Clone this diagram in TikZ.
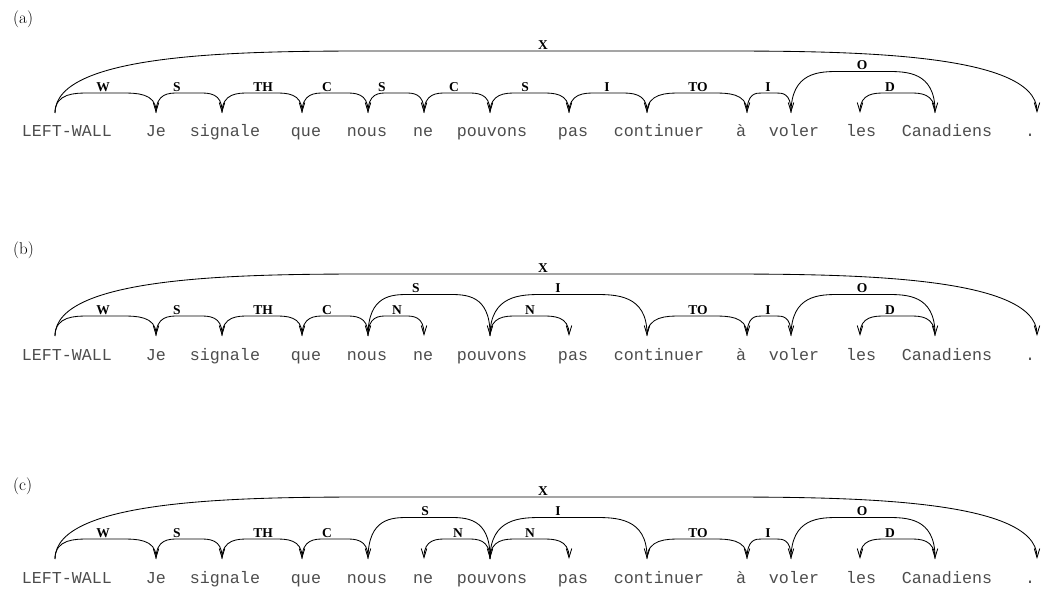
\documentclass[tikz,border=0pt]{standalone}
\usepackage{fontspec}
\newfontfamily\wordfont{Liberation Mono}
\newfontfamily\labfont{Liberation Serif}
\usetikzlibrary{arrows.meta,calc}
\newcounter{lkc}
\tikzset{
  word/.style={font=\wordfont\fontsize{16.67}{18}\selectfont, anchor=base, inner sep=0pt, text=black!70},
  lab/.style={font=\labfont\bfseries\fontsize{13.5}{15}\selectfont, anchor=south, inner sep=0pt, yshift=1.5pt},
  panellab/.style={font=\fontsize{17}{19}\selectfont, anchor=west, inner sep=0pt},
  lk/.style={line width=0.85pt},
  ar/.style={-{Straight Barb[length=9pt,width=5.5pt]}},
  al/.style={{Straight Barb[length=9pt,width=5.5pt]}-},
}
% #1 from, #2 to, #3 height, #4 label, #5 label x, #6 arrow style
\newcommand\lnk[6]{%
  \stepcounter{lkc}%
  \draw[lk,#6] let \p1=(#1),\p2=(#2),\n1={(\x2-\x1)/3},\n2={0.6*(\x2-\x1)/3} in
    (\p1) .. controls (\x1,\y1+#3pt) and (\x1+\n2,\y1+#3pt) .. (\x1+\n1,\y1+#3pt)
    -- (\x2-\n1,\y2+#3pt) .. controls (\x2-\n2,\y2+#3pt) and (\x2,\y2+#3pt) .. (\p2);
  \path let \p1=(#1) in (#5pt,\y1+#3pt) node[lab] (L\number\value{lkc}) {#4};
}
% #1 prefix, #2 y offset, #3 label y
\newcommand\sentence[3]{%
  \node[panellab] (#1lab) at (13,#3) {(#1)};
  \foreach \i/\wx/\px/\w in {0/67/55/LEFT-WALL, 1/156/156/Je, 2/225/222/signale,
      3/306/302/que, 4/367/368/nous, 5/423/424/ne, 6/492/490/pouvons, 7/573/569/pas,
      8/659/647/continuer, 9/741/747/à, 10/794/791/voler, 11/861/860/les,
      12/947/935/Canadiens, 13/1030/1037/.}{
    \node[word] (#1w\i) at (\wx,137+#2) {\w};
    \coordinate (#1\i) at (\px,113+#2);
  }
}
\def\hA{20}\def\hB{41.5}\def\hC{62}
\begin{document}
\begin{tikzpicture}[x=1pt,y=-1pt]
\useasboundingbox (0,0) rectangle (1045,591);
% ---------- (a)
\sentence{a}{0}{19}
\lnk{a0}{a1}{\hA}{W}{103}{ar}
\lnk{a1}{a2}{\hA}{S}{177}{ar}
\lnk{a2}{a3}{\hA}{TH}{263}{ar}
\lnk{a3}{a4}{\hA}{C}{327}{ar}
\lnk{a4}{a5}{\hA}{S}{382}{ar}
\lnk{a5}{a6}{\hA}{C}{454}{ar}
\lnk{a6}{a7}{\hA}{S}{525}{ar}
\lnk{a7}{a8}{\hA}{I}{607}{ar}
\lnk{a8}{a9}{\hA}{TO}{698}{ar}
\lnk{a9}{a10}{\hA}{I}{768}{ar}
\lnk{a10}{a12}{\hB}{O}{862}{ar}
\lnk{a11}{a12}{\hA}{D}{890}{al}
\lnk{a0}{a13}{\hC}{X}{543}{ar}
% ---------- (b)
\sentence{b}{223}{250}
\lnk{b0}{b1}{\hA}{W}{103}{ar}
\lnk{b1}{b2}{\hA}{S}{177}{ar}
\lnk{b2}{b3}{\hA}{TH}{263}{ar}
\lnk{b3}{b4}{\hA}{C}{327}{ar}
\lnk{b4}{b5}{\hA}{N}{397}{ar}
\lnk{b4}{b6}{\hB}{S}{416}{ar}
\lnk{b6}{b7}{\hA}{N}{530}{ar}
\lnk{b6}{b8}{\hB}{I}{558}{ar}
\lnk{b8}{b9}{\hA}{TO}{698}{ar}
\lnk{b9}{b10}{\hA}{I}{768}{ar}
\lnk{b10}{b12}{\hB}{O}{862}{ar}
\lnk{b11}{b12}{\hA}{D}{890}{al}
\lnk{b0}{b13}{\hC}{X}{543}{ar}
% ---------- (c)
\sentence{c}{446}{486}
\lnk{c0}{c1}{\hA}{W}{103}{ar}
\lnk{c1}{c2}{\hA}{S}{177}{ar}
\lnk{c2}{c3}{\hA}{TH}{263}{ar}
\lnk{c3}{c4}{\hA}{C}{327}{ar}
\lnk{c4}{c6}{\hB}{S}{425}{ar}
\lnk{c5}{c6}{\hA}{N}{458}{al}
\lnk{c6}{c7}{\hA}{N}{530}{ar}
\lnk{c6}{c8}{\hB}{I}{558}{ar}
\lnk{c8}{c9}{\hA}{TO}{698}{ar}
\lnk{c9}{c10}{\hA}{I}{768}{ar}
\lnk{c10}{c12}{\hB}{O}{862}{ar}
\lnk{c11}{c12}{\hA}{D}{890}{al}
\lnk{c0}{c13}{\hC}{X}{543}{ar}
\end{tikzpicture}
\end{document}
